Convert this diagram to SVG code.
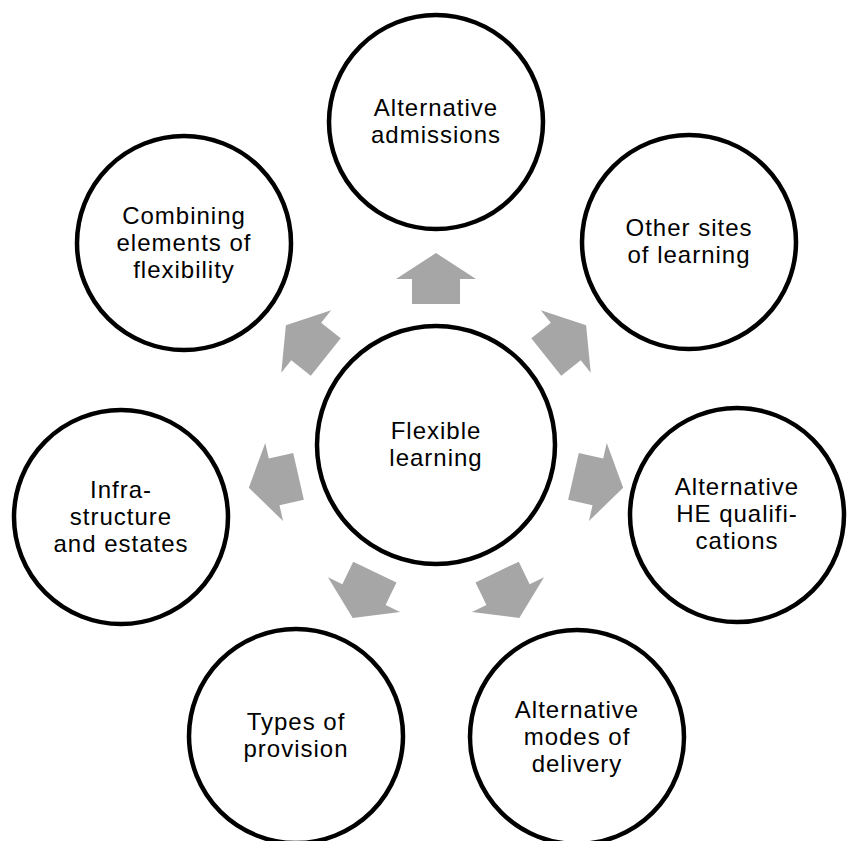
<svg xmlns="http://www.w3.org/2000/svg" xmlns:xlink="http://www.w3.org/1999/xlink" width="853" height="841" viewBox="0 0 853 841">
<style>
.node{fill:#fff;stroke:#000;stroke-width:4.5}
.lbl{font-family:"Liberation Sans",Arial,sans-serif;font-size:24px;letter-spacing:1px;fill:#000;text-anchor:middle}
.arr{fill:#a6a6a6}
</style>
<defs>
<polygon id="arrow" points="-24,-141 -24,-166 -40,-166 0,-192 40,-166 24,-166 24,-141"/>
</defs>
<rect width="853" height="841" fill="#fff"/>
<g id="connectors" class="arr">
<use xlink:href="#arrow" transform="translate(436 445) rotate(0)"/>
<use xlink:href="#arrow" transform="translate(436 445) rotate(51.43)"/>
<use xlink:href="#arrow" transform="translate(436 445) rotate(102.86)"/>
<use xlink:href="#arrow" transform="translate(436 445) rotate(154.29)"/>
<use xlink:href="#arrow" transform="translate(436 445) rotate(205.71)"/>
<use xlink:href="#arrow" transform="translate(436 445) rotate(257.14)"/>
<use xlink:href="#arrow" transform="translate(436 445) rotate(308.57)"/>
</g>
<g id="center">
<circle class="node" cx="436" cy="445" r="119"/>
<text class="lbl" x="436" y="439">Flexible</text>
<text class="lbl" x="436" y="466">learning</text>
</g>
<g id="n-admissions">
<circle class="node" cx="436" cy="122" r="107"/>
<text class="lbl" x="436" y="116">Alternative</text>
<text class="lbl" x="436" y="143">admissions</text>
</g>
<g id="n-sites">
<circle class="node" cx="689" cy="242" r="107"/>
<text class="lbl" x="689" y="236">Other sites</text>
<text class="lbl" x="689" y="263">of learning</text>
</g>
<g id="n-qualifications">
<circle class="node" cx="737" cy="515" r="107"/>
<text class="lbl" x="737" y="495">Alternative</text>
<text class="lbl" x="737" y="522">HE qualifi-</text>
<text class="lbl" x="737" y="549">cations</text>
</g>
<g id="n-delivery">
<circle class="node" cx="577" cy="737" r="107"/>
<text class="lbl" x="577" y="718">Alternative</text>
<text class="lbl" x="577" y="745">modes of</text>
<text class="lbl" x="577" y="772">delivery</text>
</g>
<g id="n-provision">
<circle class="node" cx="296" cy="736" r="107"/>
<text class="lbl" x="296" y="730">Types of</text>
<text class="lbl" x="296" y="757">provision</text>
</g>
<g id="n-infrastructure">
<circle class="node" cx="121" cy="517" r="107"/>
<text class="lbl" x="121" y="498">Infra-</text>
<text class="lbl" x="121" y="525">structure</text>
<text class="lbl" x="121" y="552">and estates</text>
</g>
<g id="n-combining">
<circle class="node" cx="184" cy="243" r="107"/>
<text class="lbl" x="184" y="224">Combining</text>
<text class="lbl" x="184" y="251">elements of</text>
<text class="lbl" x="184" y="278">flexibility</text>
</g>
</svg>
